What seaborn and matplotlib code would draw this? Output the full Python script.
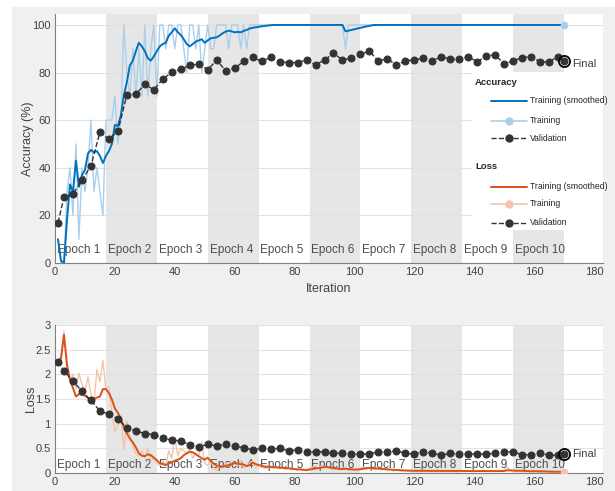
import matplotlib
matplotlib.use("Agg")
import matplotlib.pyplot as plt
import pandas as pd
import seaborn as sns
from matplotlib.lines import Line2D
from matplotlib.patches import Rectangle

sns.set_style("white")
plt.rcParams["font.family"] = ["Liberation Sans", "DejaVu Sans"]

# ---------------- training log (one entry per iteration) ----------------
iterations = list(range(1, 171))

acc_raw = [
    10, 0, 0, 30, 40, 20, 50, 10, 40, 30,
    40, 60, 30, 40, 30, 20, 60, 60, 60, 70,
    50, 60, 100, 80, 70, 90, 70, 90, 70, 100,
    70, 90, 100, 70, 100, 100, 90, 100, 100, 90,
    100, 100, 90, 80, 100, 100, 90, 100, 80, 90,
    100, 90, 90, 100, 100, 100, 100, 90, 100, 100,
    100, 90, 100, 90, 100, 100, 100, 100, 100, 100,
] + [100] * 26 + [90] + [100] * 73

acc_smooth = [
    10, 1, 0, 18, 33, 30, 43, 32, 37, 39,
    46, 47.5, 46.5, 47, 45, 42, 45, 47, 50, 58,
    57.5, 62, 70.5, 76, 83, 85, 89, 92.5, 91, 89,
    86, 85, 86.8, 89, 91, 92, 92.5, 95.5, 97, 98.6,
    97, 95.8, 94, 92, 91, 92, 93, 93.5, 94, 92.5,
    93.5, 94.4, 94.6, 94.8, 95.6, 96.5, 97.2, 97.6, 97.3, 96.9,
    97.1, 96.9, 97.5, 97.9, 98.5, 98.8, 99, 99.2, 99.4, 99.6,
    99.7, 99.9,
] + [100] * 24 + [
    97.3, 97.6, 97.9, 98.2, 98.5, 98.8, 99.1, 99.4, 99.6, 99.9,
] + [100] * 64

loss_raw = [
    2.30, 2.35, 2.88, 2.05, 1.85, 2.00, 1.70, 2.02, 1.80, 1.65,
    1.95, 1.60, 1.40, 2.10, 1.85, 2.28, 1.70, 1.75, 1.20, 0.85,
    0.95, 1.15, 0.47, 1.05, 0.75, 0.55, 0.40, 0.35, 0.45, 0.30,
    0.50, 0.25, 0.30, 0.20, 0.15, 0.25, 0.15, 0.45, 0.30, 0.72,
    0.35, 0.50, 0.45, 0.40, 0.50, 0.30, 0.40, 0.35, 0.62, 0.20,
    0.15, 0.25, 0.10, 0.05, 0.15, 0.10, 0.20, 0.15, 0.25, 0.20,
    0.15, 0.25, 0.10, 0.15, 0.20, 0.25, 0.10, 0.15, 0.12, 0.10,
    0.10, 0.14, 0.09, 0.12, 0.08, 0.11, 0.07, 0.10, 0.06, 0.08,
    0.05, 0.09, 0.06, 0.04, 0.10, 0.12, 0.14, 0.09, 0.15, 0.11,
    0.13, 0.08, 0.07, 0.10, 0.06, 0.09, 0.12, 0.05, 0.07, 0.06,
    0.08, 0.10, 0.12, 0.09, 0.11, 0.08, 0.07, 0.09, 0.06, 0.08,
    0.05, 0.07, 0.04, 0.06, 0.05, 0.04, 0.06, 0.03, 0.05, 0.04,
    0.05, 0.03, 0.06, 0.04, 0.05, 0.03, 0.04, 0.06, 0.03, 0.05,
    0.04, 0.05, 0.03, 0.04, 0.06, 0.04, 0.03, 0.05, 0.04, 0.03,
    0.05, 0.04, 0.03, 0.05, 0.04, 0.03, 0.04, 0.05, 0.03, 0.06,
    0.12, 0.05, 0.04, 0.03, 0.05, 0.04, 0.03, 0.04, 0.02, 0.04,
    0.03, 0.02, 0.04, 0.03, 0.02, 0.03, 0.02, 0.03, 0.02, 0.03,
]

loss_smooth = [
    2.26, 2.32, 2.80, 2.20, 1.89, 1.72, 1.55, 1.60, 1.58, 1.57,
    1.52, 1.48, 1.50, 1.53, 1.55, 1.70, 1.70, 1.62, 1.49, 1.31,
    1.22, 1.10, 0.93, 0.80, 0.70, 0.62, 0.52, 0.40, 0.35, 0.34,
    0.38, 0.36, 0.31, 0.26, 0.20, 0.18, 0.16, 0.19, 0.22, 0.25,
    0.27, 0.30, 0.36, 0.40, 0.43, 0.42, 0.38, 0.34, 0.30, 0.27,
    0.31, 0.24, 0.19, 0.15, 0.14, 0.13, 0.14, 0.16, 0.18, 0.20,
    0.19, 0.18, 0.17, 0.14, 0.16, 0.21, 0.18, 0.16, 0.15, 0.13,
    0.13, 0.12, 0.12, 0.115, 0.11, 0.105, 0.10, 0.095, 0.09, 0.08,
    0.075, 0.07, 0.065, 0.06, 0.07, 0.08, 0.09, 0.10, 0.11, 0.12,
    0.12, 0.11, 0.10, 0.09, 0.085, 0.08, 0.085, 0.08, 0.075, 0.07,
    0.07, 0.075, 0.085, 0.095, 0.10, 0.10, 0.095, 0.09, 0.085, 0.08,
    0.075, 0.07, 0.065, 0.06, 0.058, 0.055, 0.05, 0.048, 0.045, 0.045,
    0.045, 0.044, 0.045, 0.044, 0.045, 0.043, 0.042, 0.044, 0.042, 0.043,
    0.042, 0.043, 0.041, 0.04, 0.042, 0.041, 0.039, 0.04, 0.04, 0.038,
    0.04, 0.039, 0.037, 0.039, 0.039, 0.037, 0.037, 0.039, 0.037, 0.04,
    0.055, 0.053, 0.05, 0.046, 0.046, 0.044, 0.041, 0.04, 0.036, 0.037,
    0.035, 0.031, 0.033, 0.032, 0.028, 0.029, 0.026, 0.027, 0.025, 0.026,
]

# ---------------- validation (every 3 iterations + final) ----------------
val_iterations = [1] + list(range(3, 169, 3)) + [170]
val_acc = [
    17, 27.6, 29, 34.7, 40.9, 54.9, 52, 55.5, 70.5, 70.9,
    75.2, 72.7, 77.3, 80.1, 81.4, 83, 83.6, 81.2, 85.2, 80.8,
    81.8, 84.7, 86.4, 84.7, 86.4, 84.6, 84.2, 84.2, 85.3, 83.2,
    85.3, 88.1, 85.3, 86, 87.8, 88.9, 84.9, 85.8, 83.1, 84.9,
    85.3, 86, 84.9, 86.7, 85.6, 85.6, 86.7, 84.5, 87, 87.4,
    83.6, 84.9, 86.3, 86.7, 84.5, 84.5, 86.7, 84.9,
]
val_loss = [
    2.26, 2.07, 1.86, 1.66, 1.47, 1.26, 1.19, 1.10, 0.91, 0.85,
    0.80, 0.78, 0.70, 0.67, 0.65, 0.57, 0.53, 0.58, 0.55, 0.58,
    0.55, 0.51, 0.47, 0.50, 0.48, 0.50, 0.45, 0.47, 0.43, 0.43,
    0.43, 0.40, 0.40, 0.385, 0.385, 0.385, 0.43, 0.43, 0.45, 0.40,
    0.385, 0.43, 0.40, 0.36, 0.40, 0.385, 0.385, 0.385, 0.385, 0.40,
    0.43, 0.43, 0.37, 0.37, 0.40, 0.36, 0.36, 0.385,
]

epoch_labels = [f"Epoch {k}" for k in range(1, 11)]
iters_per_epoch = 17

train = pd.DataFrame({"Iteration": iterations, "acc_raw": acc_raw,
                      "acc_smooth": acc_smooth, "loss_raw": loss_raw,
                      "loss_smooth": loss_smooth})
val = pd.DataFrame({"Iteration": val_iterations, "acc": val_acc, "loss": val_loss})

# ---------------- styling ----------------
BLUE = "#0072BD"
BLUE_LIGHT = "#a9cfec"
ORANGE = "#D95319"
ORANGE_LIGHT = "#f4c3aa"
VAL = "#333333"
SHADE = "#e6e6e6"
GRID = "#e2e2e2"
AXC = "#404040"

W, H = 615, 491
fig = plt.figure(figsize=(W / 100, H / 100), dpi=100)
fig.patch.set_facecolor("white")
fig.patches.append(Rectangle((12 / W, 0), 1 - 12 / W, 1 - 7 / H,
                             transform=fig.transFigure, facecolor="#f0f0f0",
                             edgecolor="none", zorder=-1))

ax1 = fig.add_axes([55 / W, 1 - 263 / H, 548 / W, 249 / H])
ax2 = fig.add_axes([55 / W, 1 - 473 / H, 548 / W, 148 / H])


def style_axes(ax, ylim, yticks, yticklabels, label_y):
    ax.set_facecolor("white")
    ax.set_xlim(0, 183)
    ax.set_ylim(*ylim)
    for k, name in enumerate(epoch_labels):
        start = k * iters_per_epoch
        if k % 2 == 1:
            ax.axvspan(start, start + iters_per_epoch, color=SHADE, lw=0, zorder=0)
        ax.text(start + 0.6, label_y, name, ha="left", va="center",
                fontsize=8.5, color="#4d4d4d", zorder=1)
    ax.set_yticks(yticks)
    ax.set_yticklabels(yticklabels)
    ax.set_xticks(range(0, 181, 20))
    ax.yaxis.grid(True, color=GRID, lw=0.8, zorder=0.5)
    ax.xaxis.grid(False)
    ax.set_axisbelow(True)
    for side in ("top", "right"):
        ax.spines[side].set_visible(False)
    for side in ("left", "bottom"):
        ax.spines[side].set_color("#808080")
        ax.spines[side].set_linewidth(0.8)
    ax.tick_params(direction="in", length=3, width=0.6, color="#808080",
                   labelsize=8, labelcolor=AXC, pad=3)


style_axes(ax1, (0, 104.6), range(0, 101, 20), [str(v) for v in range(0, 101, 20)], 5.5)
style_axes(ax2, (0, 3), [0, 0.5, 1, 1.5, 2, 2.5, 3],
           ["0", "0.5", "1", "1.5", "2", "2.5", "3"], 0.17)

# accuracy panel
sns.lineplot(data=train, x="Iteration", y="acc_raw", ax=ax1, color=BLUE_LIGHT, lw=1.0, zorder=2)
sns.lineplot(data=train, x="Iteration", y="acc_smooth", ax=ax1, color=BLUE, lw=1.4, zorder=3)
sns.lineplot(data=val, x="Iteration", y="acc", ax=ax1, color=VAL, lw=1.0, ls="--",
             marker="o", markersize=5, markeredgecolor=VAL, zorder=4)
ax1.plot(iterations[-1], acc_raw[-1], "o", color=BLUE_LIGHT, ms=4.5, zorder=4)
ax1.plot(val_iterations[-1], val_acc[-1], "o", mfc="none", mec="black", ms=8, mew=1.3, zorder=5)
ax1.annotate("Final", xy=(val_iterations[-1], val_acc[-1]), xytext=(5.5, -2),
             textcoords="offset points", ha="left", va="center", fontsize=8, color=AXC)

# loss panel
sns.lineplot(data=train, x="Iteration", y="loss_raw", ax=ax2, color=ORANGE_LIGHT, lw=1.0, zorder=2)
sns.lineplot(data=train, x="Iteration", y="loss_smooth", ax=ax2, color=ORANGE, lw=1.4, zorder=3)
sns.lineplot(data=val, x="Iteration", y="loss", ax=ax2, color=VAL, lw=1.0, ls="--",
             marker="o", markersize=5, markeredgecolor=VAL, zorder=4)
ax2.plot(iterations[-1], loss_raw[-1], "o", color=ORANGE_LIGHT, ms=4.5, zorder=4)
ax2.plot(val_iterations[-1], val_loss[-1], "o", mfc="none", mec="black", ms=8, mew=1.3, zorder=5)
ax2.annotate("Final", xy=(val_iterations[-1], val_loss[-1]), xytext=(5.5, 0),
             textcoords="offset points", ha="left", va="center", fontsize=8, color=AXC)

ax1.set_xlabel("Iteration", fontsize=9, color=AXC, labelpad=4)
ax1.set_ylabel("Accuracy (%)", fontsize=9, color=AXC)
ax1.yaxis.set_label_coords(-0.038, 0.5)
ax2.set_xlabel("")
ax2.set_ylabel("Loss", fontsize=9, color=AXC)
ax2.yaxis.set_label_coords(-0.033, 0.5)

# ---------------- legend panel ----------------
def fx(px):
    return px / W


def fy(py):
    return 1 - py / H


fig.patches.append(Rectangle((fx(472), fy(230)), fx(603) - fx(472), fy(72) - fy(230),
                             transform=fig.transFigure, facecolor="white",
                             edgecolor="none", zorder=1))

entries = [
    ("Accuracy", 82.7, None),
    ("Training (smoothed)", 100.7, dict(color=BLUE, lw=1.4)),
    ("Training", 120.7, dict(color=BLUE_LIGHT, lw=1.2, marker="o", ms=5, markevery=[1])),
    ("Validation", 138.3, dict(color=VAL, lw=1.0, ls="--", marker="o", ms=5, markevery=[1])),
    ("Loss", 166.7, None),
    ("Training (smoothed)", 186.7, dict(color=ORANGE, lw=1.4)),
    ("Training", 204.0, dict(color=ORANGE_LIGHT, lw=1.2, marker="o", ms=5, markevery=[1])),
    ("Validation", 222.7, dict(color=VAL, lw=1.0, ls="--", marker="o", ms=5, markevery=[1])),
]
for text, py, style in entries:
    if style is None:
        fig.text(fx(475), fy(py), text, fontsize=6.8, fontweight="bold",
                 color="#262626", va="center", ha="left", zorder=3)
    else:
        fig.add_artist(Line2D([fx(491), fx(509), fx(527)], [fy(py)] * 3,
                              transform=fig.transFigure, zorder=3, **style))
        fig.text(fx(530), fy(py), text, fontsize=6.2, color="#262626",
                 va="center", ha="left", zorder=3)

fig.savefig("out.png", dpi=100, facecolor=fig.get_facecolor())
